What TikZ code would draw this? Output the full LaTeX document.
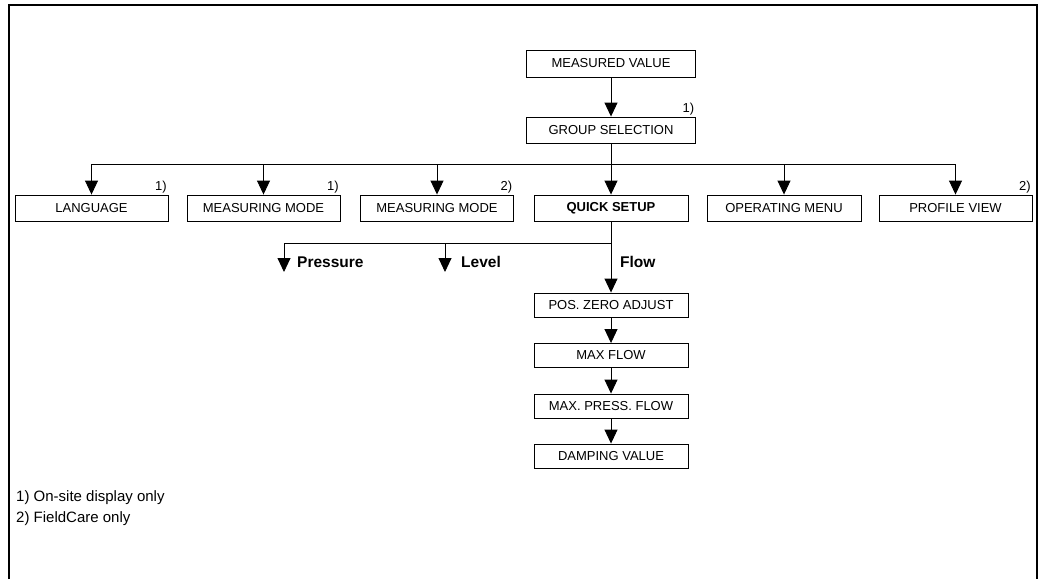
\documentclass[tikz,border=0pt]{standalone}
\usepackage{fontspec}
\setmainfont{Liberation Sans}
\usetikzlibrary{arrows.meta,calc}
\begin{document}
\begin{tikzpicture}[x=1pt,y=-1pt,
  box/.style={draw, line width=0.9pt, minimum width=153pt, minimum height=26pt, inner sep=0pt, font=\fontsize{13}{15}\selectfont},
  cbox/.style={box, minimum width=154pt, minimum height=24pt},
  topbox/.style={box, minimum width=169pt, minimum height=27pt},
  conn/.style={line width=0.9pt},
  arr/.style={line width=0.9pt, -{Triangle[width=13pt,length=14pt]}},
  note/.style={anchor=south east, inner sep=1.5pt, font=\fontsize{13}{15}\selectfont},
  branch/.style={anchor=west, inner sep=0pt, font=\fontsize{15.5}{18}\selectfont\bfseries},
  foot/.style={anchor=west, inner sep=0pt, font=\fontsize{15}{18}\selectfont}]
\useasboundingbox (0,0) rectangle (1038,579);
% frame
\draw[line width=1.6pt] (9,579) -- (9,5) -- (1037,5) -- (1037,579);
% top nodes
\node[topbox] (mv) at (611,63.5) {MEASURED VALUE};
\node[topbox, minimum height=26pt] (gs) at (611,130) {GROUP SELECTION};
\node[note] (n0) at (gs.north east) {1)};
\draw[arr] (mv.south) -- (gs.north);
% row
\node[box] (lang) at (91.5,208) {LANGUAGE};
\node[box] (mm1) at (263.5,208) {MEASURING MODE};
\node[box] (mm2) at (437,208) {MEASURING MODE};
\node[box, minimum width=154pt, font=\fontsize{13}{15}\selectfont\bfseries] (qs) at (611,208) {QUICK SETUP};
\node[box, minimum width=154pt] (om) at (784,208) {OPERATING MENU};
\node[box] (pv) at (955.5,208) {PROFILE VIEW};
\node[note] (n1) at (lang.north east) {1)};
\node[note] (n2) at (mm1.north east) {1)};
\node[note] (n3) at (mm2.north east) {2)};
\node[note] (n4) at (pv.north east) {2)};
% bus
\coordinate (busL) at (92,164);
\coordinate (busR) at (956,164);
\draw[conn] (lang.north |- busL) -- (pv.north |- busR);
\draw[conn] (gs.south) -- (gs.south |- busL);
\foreach \b in {lang,mm1,mm2,qs,om,pv}{
  \draw[arr] (\b.north |- busL) -- (\b.north);
}
% quick setup branches
\node[cbox] (pos) at (611,305) {POS. ZERO ADJUST};
\node[cbox] (mf) at (611,355.5) {MAX FLOW};
\node[cbox] (mpf) at (611,406) {MAX. PRESS. FLOW};
\node[cbox] (dv) at (611,456) {DAMPING VALUE};
\coordinate (split) at (611,243);
\coordinate (pEnd) at (284,272);
\coordinate (lEnd) at (445,272);
\draw[arr] (qs.south) -- (pos.north);
\draw[arr] (split) -| (pEnd);
\draw[arr] (lEnd |- split) -- (lEnd);
\node[branch] (lp) at (297,262) {Pressure};
\node[branch] (ll) at (461,262) {Level};
\node[branch] (lf) at (620,262) {Flow};
\draw[arr] (pos.south) -- (mf.north);
\draw[arr] (mf.south) -- (mpf.north);
\draw[arr] (mpf.south) -- (dv.north);
% footnotes
\node[foot] (f1) at (16,498) {1) On-site display only};
\node[foot] (f2) at (16,519) {2) FieldCare only};
\end{tikzpicture}
\end{document}
